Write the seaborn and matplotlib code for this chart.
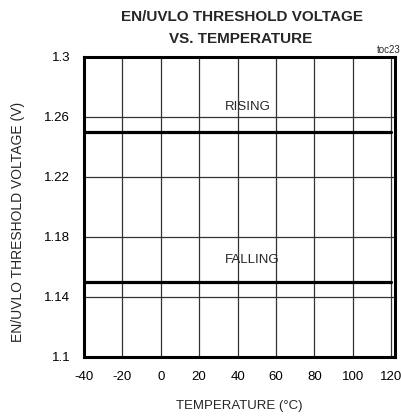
import pandas as pd
import matplotlib
matplotlib.use("Agg")
import matplotlib.pyplot as plt
import seaborn as sns

# values
temperature = [-40, -20, 0, 20, 40, 60, 80, 100, 120]
rising_v = [1.25, 1.25, 1.25, 1.25, 1.25, 1.25, 1.25, 1.25, 1.25]
falling_v = [1.15, 1.15, 1.15, 1.15, 1.15, 1.15, 1.15, 1.15, 1.15]
x_ticks = [-40, -20, 0, 20, 40, 60, 80, 100, 120]
y_ticks = [1.1, 1.14, 1.18, 1.22, 1.26, 1.3]
y_tick_labels = ["1.1", "1.14", "1.18", "1.22", "1.26", "1.3"]

df = pd.DataFrame({
    "temp": temperature * 2,
    "volt": rising_v + falling_v,
    "edge": ["RISING"] * len(temperature) + ["FALLING"] * len(temperature),
})

sns.set_theme(style="white")
plt.rcParams["font.family"] = ["Liberation Sans", "DejaVu Sans"]
plt.rcParams["axes.unicode_minus"] = False

fig = plt.figure(figsize=(4.01, 4.19), dpi=100)
ax = fig.add_axes([0.2095, 0.148, 0.7755, 0.716])

sns.lineplot(data=df, x="temp", y="volt", hue="edge", palette=["black", "black"],
             linewidth=2.3, legend=False, ax=ax)

ax.set_xlim(-40, 122)
ax.set_ylim(1.1, 1.3)
ax.set_xticks(x_ticks)
ax.set_yticks(y_ticks)
ax.set_yticklabels(y_tick_labels)
ax.grid(True, color="#333333", linewidth=0.9)
ax.tick_params(axis="both", length=0, labelsize=9.5, colors="black")
ax.tick_params(axis="x", pad=10)
ax.tick_params(axis="y", pad=10)
for sp in ax.spines.values():
    sp.set_visible(True)
    sp.set_color("black")
    sp.set_linewidth(2.2)

ax.set_xlabel("TEMPERATURE (°C)", fontsize=9.5)
ax.set_ylabel("EN/UVLO THRESHOLD VOLTAGE (V)", fontsize=10)
ax.xaxis.set_label_coords(0.5, -0.145)
ax.yaxis.set_label_coords(-0.19, 0.45)

ax.text(33.4, 1.2667, "RISING", fontsize=9.5, va="center", ha="left")
ax.text(33.4, 1.1647, "FALLING", fontsize=9.5, va="center", ha="left")

fig.text(0.603, 0.96, "EN/UVLO THRESHOLD VOLTAGE", fontsize=11, fontweight="bold",
         ha="center", va="center")
fig.text(0.599, 0.907, "VS. TEMPERATURE", fontsize=11, fontweight="bold",
         ha="center", va="center")
fig.text(0.998, 0.881, "toc23", fontsize=7, ha="right", va="center")

fig.savefig("out.png", dpi=100)
